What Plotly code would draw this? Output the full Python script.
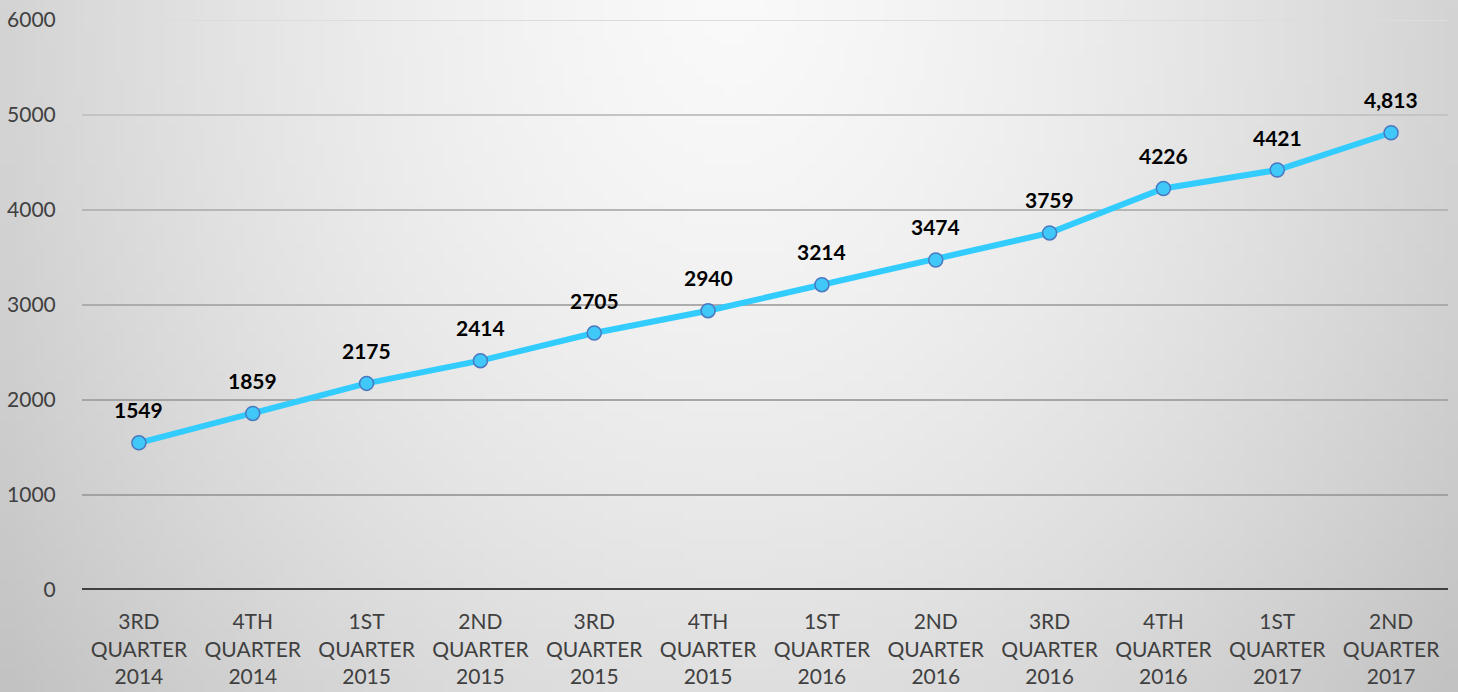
import base64
import struct
import zlib

import numpy as np
import plotly.graph_objects as go

quarters = ["3RD<br>QUARTER<br>2014", "4TH<br>QUARTER<br>2014", "1ST<br>QUARTER<br>2015",
            "2ND<br>QUARTER<br>2015", "3RD<br>QUARTER<br>2015", "4TH<br>QUARTER<br>2015",
            "1ST<br>QUARTER<br>2016", "2ND<br>QUARTER<br>2016", "3RD<br>QUARTER<br>2016",
            "4TH<br>QUARTER<br>2016", "1ST<br>QUARTER<br>2017", "2ND<br>QUARTER<br>2017"]
values = [1549, 1859, 2175, 2414, 2705, 2940, 3214, 3474, 3759, 4226, 4421, 4813]
labels = ["1549", "1859", "2175", "2414", "2705", "2940", "3214", "3474", "3759", "4226", "4421", "4,813"]
y_ticks = [0, 1000, 2000, 3000, 4000, 5000, 6000]
grid_colors = ["#404040", "#a2a2a2", "#a6a6a6", "#acacac", "#b6b6b6", "#c4c4c4", "#dcdcdc"]

W, H = 1458, 692
ML, MR, MT, MB = 82, 10, 20, 102
FONT = "Lato"


def gradient_png(w=146, h=70):
    # radial grey gradient, light at top centre, darker towards the corners
    xs = np.linspace(0, 1, w)
    ys = np.linspace(0, 1, h)
    gx, gy = np.meshgrid(xs, ys)
    dx = np.abs(gx - 0.5) / 0.5
    dy = gy
    drop = 0.5 * (38 * dx ** 2 + 27 * dy ** 2) + 0.5 * np.sqrt((38 * dx) ** 2 + (27 * dy) ** 2)
    v = np.clip(250 - drop, 0, 255).astype(np.uint8)
    raw = b"".join(b"\x00" + bytes(row) for row in v)

    def chunk(tag, data):
        c = struct.pack(">I", len(data)) + tag + data
        return c + struct.pack(">I", zlib.crc32(tag + data) & 0xffffffff)

    png = b"\x89PNG\r\n\x1a\n" + chunk(b"IHDR", struct.pack(">IIBBBBB", w, h, 8, 0, 0, 0, 0))
    png += chunk(b"IDAT", zlib.compress(raw)) + chunk(b"IEND", b"")
    return "data:image/png;base64," + base64.b64encode(png).decode()


fig = go.Figure()

# horizontal grid lines (colour fades towards the top like the original)
for t, c in zip(y_ticks, grid_colors):
    fig.add_shape(type="line", xref="paper", yref="y", x0=0, x1=1, y0=t, y1=t,
                  line=dict(color=c, width=4 if t == 0 else 2), layer="below")

fig.add_trace(go.Scatter(
    x=quarters,
    y=values,
    mode="lines+markers",
    line=dict(color="#33ccff", width=6),
    marker=dict(size=14, color="#3fc8f8", line=dict(color="#4a78c0", width=1.5)),
    cliponaxis=False,
    hoverinfo="skip",
))

for q, v, t in zip(quarters, values, labels):
    fig.add_annotation(x=q, y=v, text="<b>%s</b>" % t, showarrow=False,
                       yshift=33, font=dict(size=21, color="black", family=FONT))

pw, ph = W - ML - MR, H - MT - MB
fig.add_layout_image(dict(
    source=gradient_png(), xref="paper", yref="paper",
    x=-ML / pw, y=1 + MT / ph, sizex=W / pw, sizey=H / ph,
    sizing="stretch", layer="below", xanchor="left", yanchor="top",
))

fig.update_layout(
    width=W,
    height=H,
    margin=dict(l=ML, r=MR, t=MT, b=MB, autoexpand=False),
    showlegend=False,
    plot_bgcolor="rgba(0,0,0,0)",
    paper_bgcolor="#d8d8d8",
    font=dict(family=FONT, color="#404040", size=21),
)

fig.update_xaxes(range=[-0.5, 11.5], showgrid=False, showline=False, automargin=False,
                 ticks="outside", ticklen=13, tickcolor="rgba(0,0,0,0)",
                 tickfont=dict(size=21, color="#404040", family=FONT))
fig.update_yaxes(range=[0, 6000], tickvals=y_ticks, showgrid=False, zeroline=False,
                 automargin=False,
                 ticks="outside", ticklen=21, tickcolor="rgba(0,0,0,0)",
                 tickfont=dict(size=21, color="#404040", family=FONT))

fig.write_html("out.html", config={"displayModeBar": False},
               post_script="document.body.style.margin='0';")
